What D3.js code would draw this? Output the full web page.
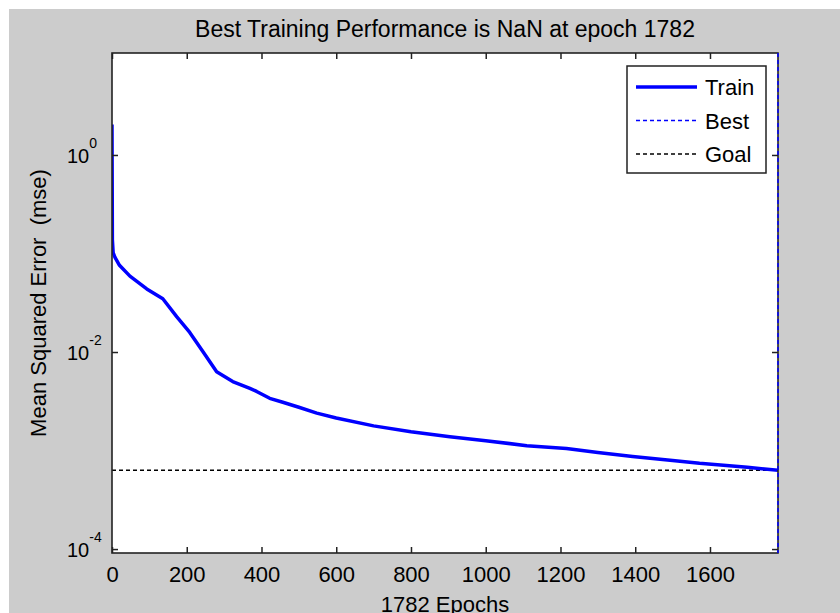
<!DOCTYPE html>
<html>
<head>
<meta charset="utf-8">
<script src="https://cdn.jsdelivr.net/npm/d3@7"></script>
<style>
  body { margin: 0; background: #fff; }
  text { font-family: "Liberation Sans", Arial, sans-serif; fill: #000; }
</style>
</head>
<body>
<svg id="chart" width="840" height="613"></svg>
<script>
// values
const epochs = [0, 1, 3, 8, 20, 48, 93, 136, 173, 208, 244, 280, 323, 369, 387, 422, 457, 500, 548, 600, 700, 800, 904, 1000, 1110, 1216, 1300, 1393, 1500, 1572, 1700, 1782];
const trainMse = [2.04, 0.138, 0.102, 0.0912, 0.0759, 0.0589, 0.0437, 0.0347, 0.0229, 0.0158, 0.0100, 0.00631, 0.00501, 0.00427, 0.00398, 0.00339, 0.00309, 0.00275, 0.00240, 0.00214, 0.00178, 0.00155, 0.00138, 0.00126, 0.00112, 0.00105, 0.000955, 0.000871, 0.000794, 0.000741, 0.000676, 0.000631];
const bestEpoch = 1782;
const goalMse = 6.3e-4;
const xTicks = [0, 200, 400, 600, 800, 1000, 1200, 1400, 1600];
const yTicks = [1, 1e-2, 1e-4];
const yTickExp = ["0", "-2", "-4"];
const legendItems = ["Train", "Best", "Goal"];
const titleText = "Best Training Performance is NaN at epoch 1782";
const xLabel = "1782 Epochs";
const yLabel = "Mean Squared Error  (mse)";

const svg = d3.select("#chart");
const pLeft = 112, pRight = 778, pTop = 53, pBottom = 553;

// figure background
svg.append("rect")
    .attr("x", 9).attr("y", 9)
    .attr("width", 840).attr("height", 613)
    .attr("fill", "#cccccc");

// axes area
svg.append("rect")
    .attr("x", pLeft).attr("y", pTop)
    .attr("width", pRight - pLeft).attr("height", pBottom - pTop)
    .attr("fill", "#fff");

const x = d3.scaleLinear().domain([0, 1782]).range([pLeft, pRight]);
const y = d3.scaleLog().domain([Math.pow(10, -4.04), Math.pow(10, 1.035)]).range([pBottom, pTop]);

svg.append("clipPath").attr("id", "clip")
  .append("rect")
    .attr("x", pLeft).attr("y", pTop)
    .attr("width", pRight - pLeft).attr("height", pBottom - pTop);

// goal line
svg.append("line")
    .attr("x1", pLeft).attr("x2", pRight)
    .attr("y1", y(goalMse)).attr("y2", y(goalMse))
    .attr("stroke", "#000")
    .attr("stroke-width", 1.5)
    .attr("stroke-dasharray", "4,3");

// train curve
const line = d3.line()
    .x((d, i) => x(epochs[i]))
    .y(d => y(d));

svg.append("path")
    .datum(trainMse)
    .attr("clip-path", "url(#clip)")
    .attr("d", line)
    .attr("fill", "none")
    .attr("stroke", "#0000ff")
    .attr("stroke-width", 3.5)
    .attr("stroke-linejoin", "round");

// axes (inner ticks, like matlab)
const axisStyle = g => {
  g.select(".domain").remove();
  g.selectAll(".tick line").attr("stroke", "#222").attr("stroke-width", 1.5);
};

svg.append("g")
    .attr("transform", `translate(0,${pBottom})`)
    .call(d3.axisBottom(x).tickValues(xTicks).tickFormat(d3.format("d"))
        .tickSizeInner(-6).tickSizeOuter(0).tickPadding(13))
    .call(axisStyle)
    .call(g => g.selectAll(".tick text")
        .attr("font-size", 22)
        .attr("font-family", "Liberation Sans, Arial, sans-serif")
        .attr("fill", "#000"));

svg.append("g")
    .attr("transform", `translate(0,${pTop})`)
    .call(d3.axisTop(x).tickValues(xTicks).tickSizeInner(-6).tickSizeOuter(0).tickFormat(""))
    .call(axisStyle);

svg.append("g")
    .attr("transform", `translate(${pLeft},0)`)
    .call(d3.axisLeft(y).tickValues(yTicks).tickSizeInner(-6).tickSizeOuter(0).tickFormat(""))
    .call(axisStyle);

svg.append("g")
    .attr("transform", `translate(${pRight},0)`)
    .call(d3.axisRight(y).tickValues(yTicks).tickSizeInner(-6).tickSizeOuter(0).tickFormat(""))
    .call(axisStyle);

// y tick labels 10^n
const yLab = svg.append("g").selectAll("text")
    .data(yTicks)
  .join("text")
    .attr("x", 67)
    .attr("y", d => y(d) + 8)
    .attr("font-size", 20);

yLab.append("tspan").text("10");
yLab.append("tspan")
    .attr("dy", -15)
    .attr("font-size", 14)
    .text((d, i) => yTickExp[i]);

// axes box
svg.append("rect")
    .attr("x", pLeft).attr("y", pTop)
    .attr("width", pRight - pLeft).attr("height", pBottom - pTop)
    .attr("fill", "none")
    .attr("stroke", "#222")
    .attr("stroke-width", 1.6);

// best line
svg.append("line")
    .attr("x1", x(bestEpoch)).attr("x2", x(bestEpoch))
    .attr("y1", pTop).attr("y2", pBottom)
    .attr("stroke", "#0000ff")
    .attr("stroke-width", 1.5)
    .attr("stroke-dasharray", "4,3");

// title and labels
svg.append("text")
    .attr("x", (pLeft + pRight) / 2).attr("y", 37)
    .attr("text-anchor", "middle")
    .attr("font-size", 23)
    .text(titleText);

svg.append("text")
    .attr("x", (pLeft + pRight) / 2).attr("y", 612)
    .attr("text-anchor", "middle")
    .attr("font-size", 22)
    .text(xLabel);

svg.append("text")
    .attr("transform", `translate(46,${(pTop + pBottom) / 2}) rotate(-90)`)
    .attr("text-anchor", "middle")
    .attr("font-size", 22)
    .style("white-space", "pre")
    .text(yLabel);

// legend
const legend = svg.append("g");
legend.append("rect")
    .attr("x", 627).attr("y", 66)
    .attr("width", 139).attr("height", 107)
    .attr("fill", "#fff")
    .attr("stroke", "#222")
    .attr("stroke-width", 1.5);

const legendStyle = [
  {stroke: "#0000ff", width: 3.5, dash: null},
  {stroke: "#0000ff", width: 1.5, dash: "4,3"},
  {stroke: "#000", width: 1.5, dash: "4,3"}
];

const rows = legend.selectAll("g.row")
    .data(legendItems)
  .join("g")
    .attr("class", "row")
    .attr("transform", (d, i) => `translate(0,${87 + i * 33.5})`);

rows.append("line")
    .attr("x1", 636).attr("x2", 697)
    .attr("stroke", (d, i) => legendStyle[i].stroke)
    .attr("stroke-width", (d, i) => legendStyle[i].width)
    .attr("stroke-dasharray", (d, i) => legendStyle[i].dash);

rows.append("text")
    .attr("x", 705).attr("y", 8)
    .attr("font-size", 22)
    .text(d => d);
</script>
</body>
</html>
